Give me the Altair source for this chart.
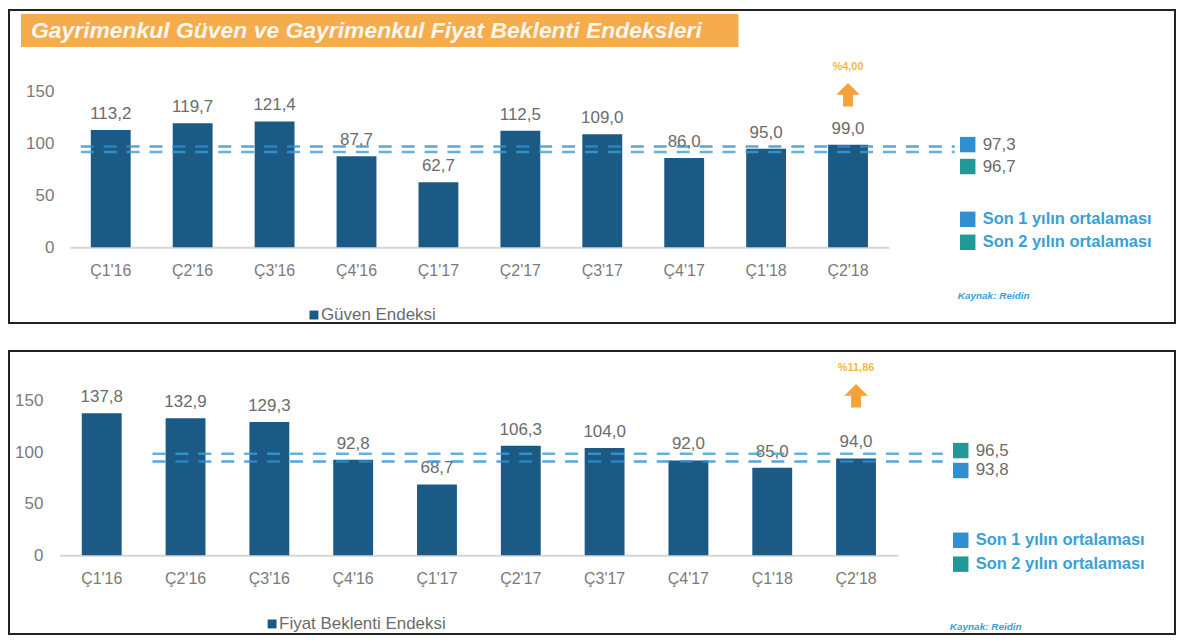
import altair as alt
import pandas as pd

quarters = ["Ç1'16", "Ç2'16", "Ç3'16", "Ç4'16", "Ç1'17", "Ç2'17", "Ç3'17", "Ç4'17", "Ç1'18", "Ç2'18"]
guven = [113.2, 119.7, 121.4, 87.7, 62.7, 112.5, 109.0, 86.0, 95.0, 99.0]
fiyat = [137.8, 132.9, 129.3, 92.8, 68.7, 106.3, 104.0, 92.0, 85.0, 94.0]

guven_avg1 = 97.3   # Son 1 yılın ortalaması
guven_avg2 = 96.7   # Son 2 yılın ortalaması
fiyat_avg1 = 93.8
fiyat_avg2 = 96.5

guven_change = "%4,00"
fiyat_change = "%11,86"

title_text = "Gayrimenkul Güven ve Gayrimenkul Fiyat Beklenti Endeksleri"
legend1 = "Son 1 yılın ortalaması"
legend2 = "Son 2 yılın ortalaması"
source_text = "Kaynak: Reidin"

BAR = "#1c5a86"
GRAY = "#6b6b6b"
BLUE = "#2f8fd0"
TEAL = "#1f9a98"
LBLUE = "#3aa0d4"
ORANGE = "#f5a23a"
FONT = "Liberation Sans"
ARROW = "M0,-1L1,0L0.42,0L0.42,1L-0.42,1L-0.42,0L-1,0Z"


def one(**kw):
    return alt.Chart(pd.DataFrame([kw]))


def text_at(txt, x, y, **style):
    return one(t=txt).mark_text(font=FONT, **style).encode(
        x=alt.value(x), y=alt.value(y), text="t:N")


def panel(values, avg1, avg2, change, series_name, geo, with_title):
    W, H = geo["W"], geo["H"]
    ys = alt.Scale(domain=[0, 150], range=[geo["y0"], geo["y150"]], nice=False, zero=True)
    xs = alt.Scale(domain=quarters, range=[geo["x0"], geo["x1"]], paddingInner=0.5, paddingOuter=0.25)
    df = pd.DataFrame({"q": quarters, "v": values})
    base = alt.Chart(df).transform_calculate(
        lab="replace(format(datum.v, '.1f'), '.', ',')")
    xenc = alt.X("q:N", scale=xs, sort=quarters, title=None,
                 axis=alt.Axis(orient="bottom", offset=-(H - geo["y0"]), labelAngle=0,
                               labelFont=FONT, labelFontSize=16, labelColor="#7a7a7a",
                               labelPadding=15, ticks=False, domainColor="#d6d6d6",
                               domainWidth=2, grid=False))
    yenc = alt.Y("v:Q", scale=ys, title=None,
                 axis=alt.Axis(orient="left", offset=-geo["yaxis"], values=[0, 50, 100, 150],
                               labelFont=FONT, labelFontSize=17, labelColor="#7a7a7a",
                               labelPadding=10, ticks=False, domain=False, grid=False))
    bars = base.mark_bar(color=BAR, size=40).encode(x=xenc, y=yenc)
    labels = base.mark_text(font=FONT, fontSize=17, color=GRAY, baseline="bottom", dy=-7).encode(
        x=alt.X("q:N", scale=xs, sort=quarters), y=alt.Y("v:Q", scale=ys), text="lab:N")

    avg_df = pd.DataFrame({"name": ["s1", "s2"], "v": [avg1, avg2]})
    rule1 = alt.Chart(avg_df).transform_filter("datum.name == 's1'").mark_rule(
        color=BLUE, strokeWidth=2.5, strokeDash=[13, 10], opacity=0.8, yOffset=geo["off1"]).encode(
        y=alt.Y("v:Q", scale=ys), x=alt.value(geo["rx0"]), x2=alt.value(geo["rx1"]))
    rule2 = alt.Chart(avg_df).transform_filter("datum.name == 's2'").mark_rule(
        color=LBLUE, strokeWidth=2.5, strokeDash=[13, 10], opacity=0.8, yOffset=geo["off2"]).encode(
        y=alt.Y("v:Q", scale=ys), x=alt.value(geo["rx0"]), x2=alt.value(geo["rx1"]))

    fmt = lambda v: f"{v:.1f}".replace(".", ",")
    layers = [bars, labels, rule1, rule2]
    lx = geo["lx"]
    for color, val, yy in [(BLUE, avg1, geo["v1y"]), (TEAL, avg2, geo["v2y"])]:
        layers.append(one(a=1).mark_square(color=color, size=240, opacity=1).encode(
            x=alt.value(lx), y=alt.value(yy)))
        layers.append(text_at(fmt(val), lx + 15, yy, fontSize=17, color=GRAY, align="left",
                              baseline="middle"))
    for color, lab, yy in [(BLUE, legend1, geo["l1y"]), (TEAL, legend2, geo["l2y"])]:
        layers.append(one(a=1).mark_square(color=color, size=240, opacity=1).encode(
            x=alt.value(lx), y=alt.value(yy)))
        layers.append(text_at(lab, lx + 15, yy, fontSize=16.5, fontWeight="bold", color=LBLUE,
                              align="left", baseline="middle"))
    layers.append(text_at(source_text, geo["kx"], geo["ky"], fontSize=10, fontStyle="italic",
                          fontWeight="bold", color=LBLUE, align="left", baseline="middle"))
    layers.append(one(a=1).mark_square(color=BAR, size=80, opacity=1).encode(
        x=alt.value(geo["sx"]), y=alt.value(geo["sy"])))
    layers.append(text_at(series_name, geo["sx"] + 7, geo["sy"], fontSize=17, color=GRAY,
                          align="left", baseline="middle"))
    last = pd.DataFrame({"q": [quarters[-1]], "c": [change]})
    layers.append(alt.Chart(last).mark_point(shape=ARROW, filled=True, size=560, color=ORANGE,
                                             opacity=1).encode(
        x=alt.X("q:N", scale=xs, sort=quarters), y=alt.value(geo["ay"])))
    layers.append(alt.Chart(last).mark_text(font=FONT, fontSize=11, fontWeight="bold",
                                            color="#f3b84a").encode(
        x=alt.X("q:N", scale=xs, sort=quarters), y=alt.value(geo["cy"]), text="c:N"))
    if with_title:
        layers.insert(0, one(a=1).mark_rect(color="#f6ab4c").encode(
            x=alt.value(12), x2=alt.value(732), y=alt.value(4), y2=alt.value(37)))
        layers.append(text_at(title_text, 22, 21, fontSize=23, fontStyle="italic",
                              fontWeight="bold", color="#fff8ee", align="left", baseline="middle"))
    return alt.layer(*layers).properties(width=W, height=H)


top_geo = dict(W=1170, H=314, y0=238, y150=82, x0=61, x1=883, yaxis=55,
               rx0=72, rx1=949, off1=0, off2=5, lx=962, v1y=135, v2y=157,
               l1y=210, l2y=233, kx=952, ky=287, sx=306, sy=306, ay=85, cy=57)
bot_geo = dict(W=1170, H=284, y0=205, y150=50, x0=51, x1=892, yaxis=44,
               rx0=144, rx1=937, off1=3, off2=-2, lx=955, v1y=120, v2y=100,
               l1y=190, l2y=214, kx=944, ky=277, sx=264, sy=274, ay=45, cy=17)

top = panel(guven, guven_avg1, guven_avg2, guven_change, "Güven Endeksi", top_geo, True)
bottom = panel(fiyat, fiyat_avg1, fiyat_avg2, fiyat_change, "Fiyat Beklenti Endeksi", bot_geo, False)

chart = alt.vconcat(top, bottom, spacing=26).properties(padding=0).configure(
    font=FONT).configure_view(stroke="#222222", strokeWidth=2)

chart.save("out.html", embed_options={"renderer": "svg", "actions": False})
